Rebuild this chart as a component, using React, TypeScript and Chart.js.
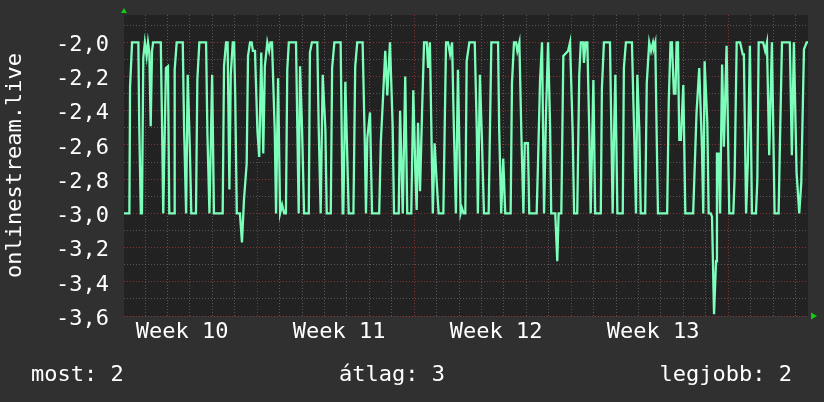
import React, { useEffect, useRef } from 'react';
import { Chart, registerables } from 'chart.js';

Chart.register(...registerables);

// x = days since start of the displayed period, y = measured value
const DAYS = [
  0.06, 0.30, 0.33, 0.42, 0.70, 0.74, 0.81, 0.86, 0.92, 0.99, 1.07, 1.13, 1.19, 1.25, 1.31, 1.36,
  1.70, 1.76, 1.81, 1.93, 2.02, 2.08, 2.29, 2.32, 2.41, 2.68, 2.74, 2.83, 2.90, 3.00, 3.06, 3.27,
  3.33, 3.42, 3.72, 3.78, 3.87, 3.99, 4.07, 4.46, 4.52, 4.61, 4.68, 4.76, 4.82, 4.91, 4.97, 5.02,
  5.09, 5.23, 5.32, 5.41, 5.53, 5.59, 5.68, 5.75, 5.81, 5.90, 6.01, 6.09, 6.18, 6.27, 6.34, 6.45,
  6.53, 6.59, 6.66, 6.78, 6.84, 6.93, 7.02, 7.11, 7.20, 7.28, 7.34, 7.41, 7.73, 7.79, 7.85, 7.91,
  8.00, 8.09, 8.30, 8.35, 8.44, 8.68, 8.74, 8.83, 8.92, 9.04, 9.10, 9.28, 9.34, 9.44, 9.72, 9.81,
  9.84, 9.93, 10.02, 10.08, 10.29, 10.37, 10.46, 10.70, 10.79, 10.85, 10.91, 11.03, 11.12, 11.44, 11.51, 11.60,
  11.71, 11.80, 11.92, 12.04, 12.10, 12.31, 12.37, 12.49, 12.60, 12.69, 12.87, 12.96, 13.05, 13.11, 13.17, 13.26,
  13.35, 13.44, 13.56, 13.62, 13.70, 13.83, 13.91, 14.00, 14.09, 14.30, 14.42, 14.51, 14.60, 14.69, 14.77, 14.86,
  14.95, 15.07, 15.13, 15.20, 15.28, 15.34, 15.46, 15.70, 15.79, 15.84, 15.93, 16.02, 16.11, 16.32, 16.44, 16.74,
  16.79, 16.88, 16.97, 17.06, 17.30, 17.36, 17.45, 17.54, 17.60, 17.69, 17.78, 17.87, 17.93, 18.07, 18.13, 18.46,
  18.52, 18.61, 18.70, 18.79, 18.88, 18.97, 19.06, 19.11, 19.29, 19.38, 19.44, 19.56, 19.65, 19.86, 19.95, 19.99,
  20.07, 20.13, 20.27, 20.36, 20.43, 20.53, 20.57, 20.64, 20.72, 20.81, 20.87, 20.99, 21.07, 21.32, 21.37, 21.46,
  21.73, 21.79, 21.85, 21.91, 21.97, 22.06, 22.30, 22.35, 22.44, 22.71, 22.80, 22.89, 22.95, 23.04, 23.10, 23.30,
  23.37, 23.48, 23.56, 23.65, 23.69, 23.75, 23.81, 23.87, 24.28, 24.35, 24.43, 24.49, 24.58, 24.65, 24.70, 24.76,
  24.82, 24.89, 25.00, 25.09, 25.44, 25.59, 25.71, 25.83, 25.89, 25.95, 26.07, 26.13, 26.22, 26.28, 26.37, 26.46,
  26.50, 26.57, 26.64, 26.73, 26.81, 26.93, 27.05, 27.23, 27.29, 27.38, 27.53, 27.65, 27.70, 27.80, 27.88, 27.97,
  28.06, 28.24, 28.30, 28.36, 28.56, 28.65, 28.73, 28.83, 28.95, 29.07, 29.25, 29.31, 29.40, 29.75, 29.84, 29.93,
  30.05, 30.17, 30.26, 30.38, 30.50, 30.56,
];

const VALUES = [
  -3.0, -3.0, -2.26, -2.0, -2.0, -2.49, -3.0, -3.0, -2.09, -2.0, -2.08, -2.0, -2.06, -2.49, -2.05, -2.0,
  -2.0, -2.51, -3.0, -2.15, -2.14, -3.0, -3.0, -2.16, -2.0, -2.0, -2.51, -3.0, -2.19, -2.64, -3.0, -3.0,
  -2.22, -2.0, -2.0, -2.54, -3.0, -2.19, -3.0, -3.0, -2.14, -2.0, -2.0, -2.86, -2.19, -2.0, -2.0, -2.32,
  -3.0, -3.0, -3.17, -2.92, -2.71, -2.08, -2.0, -2.0, -2.05, -2.05, -2.52, -2.67, -2.06, -2.65, -2.14, -2.0,
  -2.05, -2.0, -2.0, -2.51, -3.0, -2.21, -3.0, -2.95, -3.0, -3.0, -2.16, -2.0, -2.0, -2.51, -3.0, -2.14,
  -2.51, -3.0, -3.0, -2.06, -2.0, -2.0, -2.49, -3.0, -2.19, -2.51, -3.0, -3.0, -2.15, -2.0, -2.0, -3.0,
  -3.0, -2.23, -2.69, -3.0, -3.0, -2.14, -2.0, -2.0, -2.54, -3.0, -2.56, -2.41, -3.0, -3.0, -2.59, -2.35,
  -2.05, -2.31, -2.0, -2.49, -3.0, -3.0, -2.40, -3.0, -2.20, -3.0, -3.0, -2.28, -2.75, -2.98, -2.47, -2.87,
  -2.41, -2.0, -2.0, -2.15, -2.0, -3.0, -2.59, -2.81, -3.0, -3.0, -2.0, -2.0, -2.07, -2.0, -2.51, -3.0,
  -2.16, -3.0, -2.97, -3.0, -3.0, -2.11, -2.0, -2.0, -2.51, -3.0, -2.19, -2.57, -3.0, -3.0, -2.0, -2.0,
  -2.51, -3.0, -2.68, -3.0, -3.0, -2.24, -2.0, -2.0, -2.05, -2.0, -2.54, -3.0, -2.59, -2.59, -3.0, -3.0,
  -2.71, -2.23, -2.0, -3.0, -2.41, -2.0, -2.49, -3.0, -3.0, -3.28, -3.0, -3.0, -2.08, -2.05, -2.0, -2.0,
  -2.54, -3.0, -3.0, -2.19, -2.0, -2.0, -2.12, -2.0, -2.0, -2.54, -3.0, -2.22, -3.0, -3.0, -2.27, -2.0,
  -2.0, -2.51, -3.0, -2.54, -2.19, -3.0, -3.0, -2.15, -2.0, -2.0, -2.49, -3.0, -2.19, -2.52, -3.0, -3.0,
  -2.24, -2.0, -2.05, -2.0, -2.03, -2.0, -2.52, -3.0, -3.0, -2.35, -2.0, -2.0, -2.30, -2.30, -2.0, -2.0,
  -2.57, -2.57, -2.25, -3.0, -3.0, -2.41, -2.15, -2.61, -3.0, -2.11, -2.47, -3.0, -3.0, -3.02, -3.59, -3.28,
  -2.65, -2.65, -3.0, -2.13, -2.61, -2.02, -3.0, -3.0, -2.78, -2.0, -2.0, -2.07, -2.07, -3.0, -2.69, -2.02,
  -3.0, -3.0, -2.81, -2.0, -2.0, -2.05, -2.0, -2.66, -2.0, -3.0, -3.0, -2.58, -2.0, -2.0, -2.66, -2.0,
  -2.76, -3.0, -2.82, -2.04, -2.0, -2.0,
];

const X_MIN = 0.06;
const X_MAX = 30.56;
const Y_MIN = -3.6;
const Y_MAX = -1.84;

const DAY_GRID = [1, 2, 3, 4, 5, 6, 7, 8, 9, 10, 11, 12, 13, 14, 15, 16, 17, 18, 19, 20, 21, 22, 23, 24, 25, 26, 27, 28, 29, 30];
const WEEK_STARTS = [6, 13, 20, 27];
const WEEK_LABEL_POS = [2.65, 9.65, 16.65, 23.65];
const WEEK_LABELS = ['Week 10', 'Week 11', 'Week 12', 'Week 13'];

const Y_GRID = [-3.6, -3.5, -3.4, -3.3, -3.2, -3.1, -3.0, -2.9, -2.8, -2.7, -2.6, -2.5, -2.4, -2.3, -2.2, -2.1, -2.0, -1.9];
const Y_LABEL_VALUES = [-3.6, -3.4, -3.2, -3.0, -2.8, -2.6, -2.4, -2.2, -2.0];

const SERIES_NAME = 'onlinestream.live';
const LEGEND_LABELS = ['most', 'átlag', 'legjobb'];
const LEGEND_VALUES = [2, 3, 2];

const FONT_FAMILY = '"DejaVu Sans Mono", monospace';
const FONT_SIZE = 22;
const TEXT_COLOR = '#ffffff';
const OUTER_BG = '#303030';
const PLOT_BG = '#222222';
const LINE_COLOR = '#7dffbc';
const GRID_MINOR = 'rgba(140,140,140,0.5)';
const GRID_MAJOR = 'rgba(190,60,60,0.65)';
const ARROW_COLOR = '#11cc11';

const isYMajor = (v: number) => Y_LABEL_VALUES.some((l) => Math.abs(l - v) < 1e-6);
const fmtY = (v: number) => v.toFixed(1).replace('.', ',');

const zeroPad = (s: any) => {
  s.paddingTop = 0;
  s.paddingBottom = 0;
  s.paddingLeft = 0;
  s.paddingRight = 0;
};

const decorPlugin = {
  id: 'decor',
  beforeDraw(chart: any) {
    const { ctx, chartArea, width, height } = chart;
    ctx.save();
    ctx.fillStyle = OUTER_BG;
    ctx.fillRect(0, 0, width, height);
    ctx.fillStyle = PLOT_BG;
    ctx.fillRect(chartArea.left, chartArea.top, chartArea.right - chartArea.left, chartArea.bottom - chartArea.top);
    ctx.restore();
  },
  afterDraw(chart: any) {
    const { ctx, chartArea, width } = chart;
    ctx.save();
    // axis arrows
    ctx.fillStyle = ARROW_COLOR;
    ctx.beginPath();
    ctx.moveTo(chartArea.left - 3, chartArea.top - 2);
    ctx.lineTo(chartArea.left + 3, chartArea.top - 2);
    ctx.lineTo(chartArea.left, chartArea.top - 7);
    ctx.closePath();
    ctx.fill();
    ctx.beginPath();
    ctx.moveTo(chartArea.right + 3, chartArea.bottom - 3.5);
    ctx.lineTo(chartArea.right + 3, chartArea.bottom + 3.5);
    ctx.lineTo(chartArea.right + 9, chartArea.bottom);
    ctx.closePath();
    ctx.fill();
    // legend line
    ctx.fillStyle = TEXT_COLOR;
    ctx.font = `${FONT_SIZE}px ${FONT_FAMILY}`;
    ctx.textBaseline = 'alphabetic';
    const texts = LEGEND_LABELS.map((l, i) => `${l}: ${LEGEND_VALUES[i]}`);
    const y = 381;
    ctx.textAlign = 'left';
    ctx.fillText(texts[0], 31, y);
    ctx.textAlign = 'center';
    ctx.fillText(texts[1], 392, y);
    ctx.textAlign = 'right';
    ctx.fillText(texts[2], width - 32, y);
    ctx.restore();
  },
};

export default function App() {
  const canvasRef = useRef<HTMLCanvasElement | null>(null);

  useEffect(() => {
    if (!canvasRef.current) return;
    const font = { family: FONT_FAMILY, size: FONT_SIZE };
    const chart = new Chart(canvasRef.current, {
      type: 'line',
      data: {
        datasets: [
          {
            label: SERIES_NAME,
            data: DAYS.map((d, i) => ({ x: d, y: VALUES[i] })),
            borderColor: LINE_COLOR,
            borderWidth: 2.3,
            borderJoinStyle: 'miter',
            pointRadius: 0,
            tension: 0,
            fill: false,
          },
        ],
      },
      options: {
        responsive: false,
        animation: false,
        devicePixelRatio: 1,
        events: [],
        layout: { padding: { left: 0, top: 15, right: 16, bottom: 0 } },
        plugins: { legend: { display: false }, tooltip: { enabled: false } },
        scales: {
          x: {
            type: 'linear',
            position: 'bottom',
            min: X_MIN,
            max: X_MAX,
            afterBuildTicks: (s: any) => {
              s.ticks = DAY_GRID.map((v) => ({ value: v }));
            },
            afterFit: (s: any) => {
              s.height = 0;
              zeroPad(s);
            },
            ticks: { display: false },
            grid: {
              drawTicks: false,
              lineWidth: 1,
              color: (c: any) => (WEEK_STARTS.includes(c.tick?.value) ? GRID_MAJOR : GRID_MINOR),
            },
            border: { display: false, dash: [1, 2] },
          },
          x2: {
            type: 'linear',
            position: 'bottom',
            min: X_MIN,
            max: X_MAX,
            afterBuildTicks: (s: any) => {
              s.ticks = WEEK_LABEL_POS.map((v) => ({ value: v }));
            },
            afterFit: (s: any) => {
              s.height = 86;
              zeroPad(s);
            },
            ticks: {
              autoSkip: false,
              maxRotation: 0,
              color: TEXT_COLOR,
              font,
              padding: 3,
              callback: (_v: any, i: number) => WEEK_LABELS[i],
            },
            grid: { display: false, drawTicks: false },
            border: { display: false },
          },
          y: {
            type: 'linear',
            min: Y_MIN,
            max: Y_MAX,
            afterBuildTicks: (s: any) => {
              s.ticks = Y_GRID.map((v) => ({ value: v }));
            },
            afterFit: (s: any) => {
              s.width = 124;
              zeroPad(s);
            },
            ticks: {
              autoSkip: false,
              color: TEXT_COLOR,
              font,
              padding: 15,
              labelOffset: 3,
              callback: (v: any) => (isYMajor(Number(v)) ? fmtY(Number(v)) : ''),
            },
            grid: {
              drawTicks: false,
              lineWidth: 1,
              color: (c: any) => (c.tick && isYMajor(c.tick.value) ? GRID_MAJOR : GRID_MINOR),
            },
            border: { display: false, dash: [1, 2] },
            title: {
              display: true,
              text: SERIES_NAME,
              color: TEXT_COLOR,
              font,
              padding: { top: 2, bottom: 0 },
            },
          },
        },
      },
      plugins: [decorPlugin],
    } as any);
    return () => chart.destroy();
  }, []);

  return (
    <div style={{ position: 'fixed', left: 0, top: 0, width: 824, height: 402, background: OUTER_BG }}>
      <canvas ref={canvasRef} width={824} height={402} style={{ width: 824, height: 402, display: 'block' }} />
    </div>
  );
}
